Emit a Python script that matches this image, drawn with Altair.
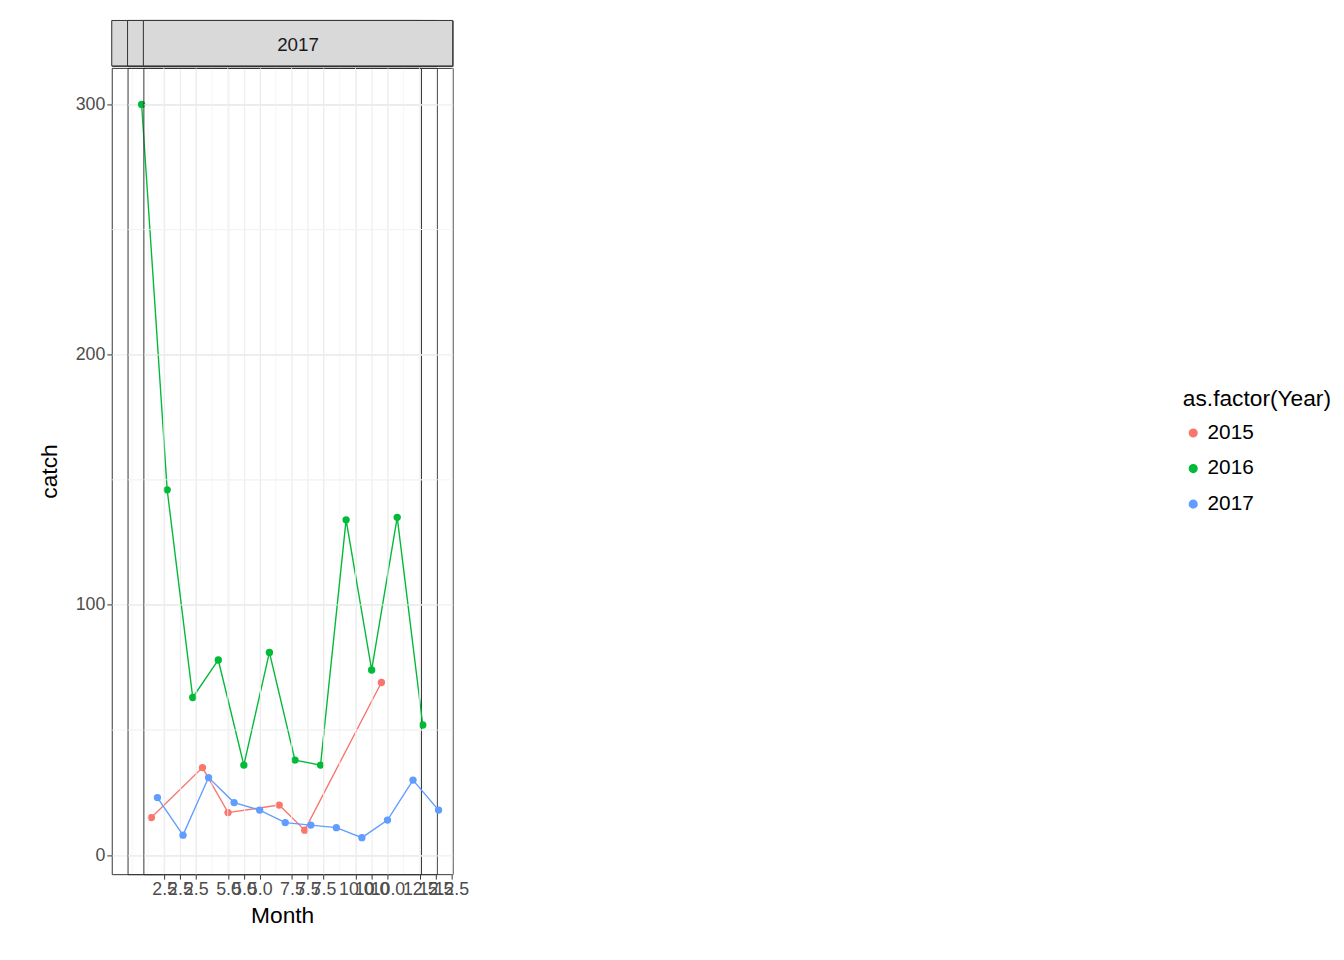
import altair as alt
import pandas as pd

months_2015 = [2, 4, 5, 7, 8, 11]
catch_2015 = [15, 35, 17, 20, 10, 69]
months_2016 = list(range(1, 13))
catch_2016 = [300, 146, 63, 78, 36, 81, 38, 36, 134, 74, 135, 52]
months_2017 = list(range(1, 13))
catch_2017 = [23, 8, 31, 21, 18, 13, 12, 11, 7, 14, 30, 18]
years = ["2015", "2016", "2017"]
colors = ["#F8766D", "#00BA38", "#619CFF"]

rows = []
for y, ms, cs in [("2015", months_2015, catch_2015), ("2016", months_2016, catch_2016), ("2017", months_2017, catch_2017)]:
    for m, c in zip(ms, cs):
        rows.append({"Year": y, "Month": m, "catch": c})
df = pd.DataFrame(rows)

minor_x = pd.DataFrame({"v": [1.25, 3.75, 6.25, 8.75, 11.25]})
minor_y = pd.DataFrame({"v": [50, 150, 250]})

W, H = 313, 816
xs = alt.Scale(domain=[0.45, 12.55], nice=False, zero=False)
ys = alt.Scale(domain=[-7.6, 314.6], nice=False, zero=False)
cs = alt.Scale(domain=years, range=colors)

panels = []
for i, yr in enumerate(years):
    strip = alt.Chart(pd.DataFrame({"t": [yr]})).mark_rect(fill="#D9D9D9", stroke="#333333", strokeWidth=1).encode(
        x=alt.value(0), x2=alt.value(W), y=alt.value(0), y2=alt.value(46))
    strip_t = alt.Chart(pd.DataFrame({"t": [yr]})).mark_text(fontSize=19, color="#1A1A1A", font="Liberation Sans").encode(
        x=alt.value(W / 2), y=alt.value(25), text="t:N")
    strip_c = (strip + strip_t).properties(width=W, height=46)

    mx = alt.Chart(minor_x).mark_rule(color="#F2F2F2", strokeWidth=0.8).encode(x=alt.X("v:Q", scale=xs))
    my = alt.Chart(minor_y).mark_rule(color="#F2F2F2", strokeWidth=0.8).encode(y=alt.Y("v:Q", scale=ys))
    d = df[df.Year == yr]
    xaxis = alt.Axis(values=[2.5, 5, 7.5, 10, 12.5], format=".1f", title="Month" if i == 1 else None,
                     grid=True, gridColor="#EBEBEB", titlePadding=6)
    if i == 0:
        yaxis = alt.Axis(values=[0, 100, 200, 300], title="catch", grid=True, gridColor="#EBEBEB", titlePadding=14)
    else:
        yaxis = alt.Axis(values=[0, 100, 200, 300], title=None, labels=False, ticks=False, domain=False,
                         grid=True, gridColor="#EBEBEB")
    base = alt.Chart(d).encode(
        x=alt.X("Month:Q", scale=xs, axis=xaxis),
        y=alt.Y("catch:Q", scale=ys, axis=yaxis),
        color=alt.Color("Year:N", scale=cs, title="as.factor(Year)",
                        legend=alt.Legend(symbolType="circle", symbolSize=60, orient="none",
                                          legendX=1084, legendY=372, rowPadding=14, titlePadding=12)),
    )
    line = base.mark_line(strokeWidth=1.4)
    pts = base.mark_point(filled=True, size=55, opacity=1)
    plot = alt.layer(mx, my, line, pts).properties(width=W, height=H)
    panels.append(alt.vconcat(strip_c, plot, spacing=0))

chart = alt.hconcat(*panels, spacing=16, bounds="flush").configure_view(stroke="#333333", strokeWidth=1).configure_axis(
    labelFontSize=18, labelColor="#4D4D4D", titleFontSize=23, titleColor="#000000", titleFontWeight="normal",
    tickColor="#333333", domain=False, labelFont="Liberation Sans", titleFont="Liberation Sans",
).configure_legend(titleFontSize=23, labelFontSize=21, titleFontWeight="normal", labelFont="Liberation Sans",
                   titleFont="Liberation Sans"
).properties(padding={"left": 30, "top": 6, "right": 5, "bottom": 5})

chart.save("out.html", embed_options={"renderer": "svg", "actions": False})
